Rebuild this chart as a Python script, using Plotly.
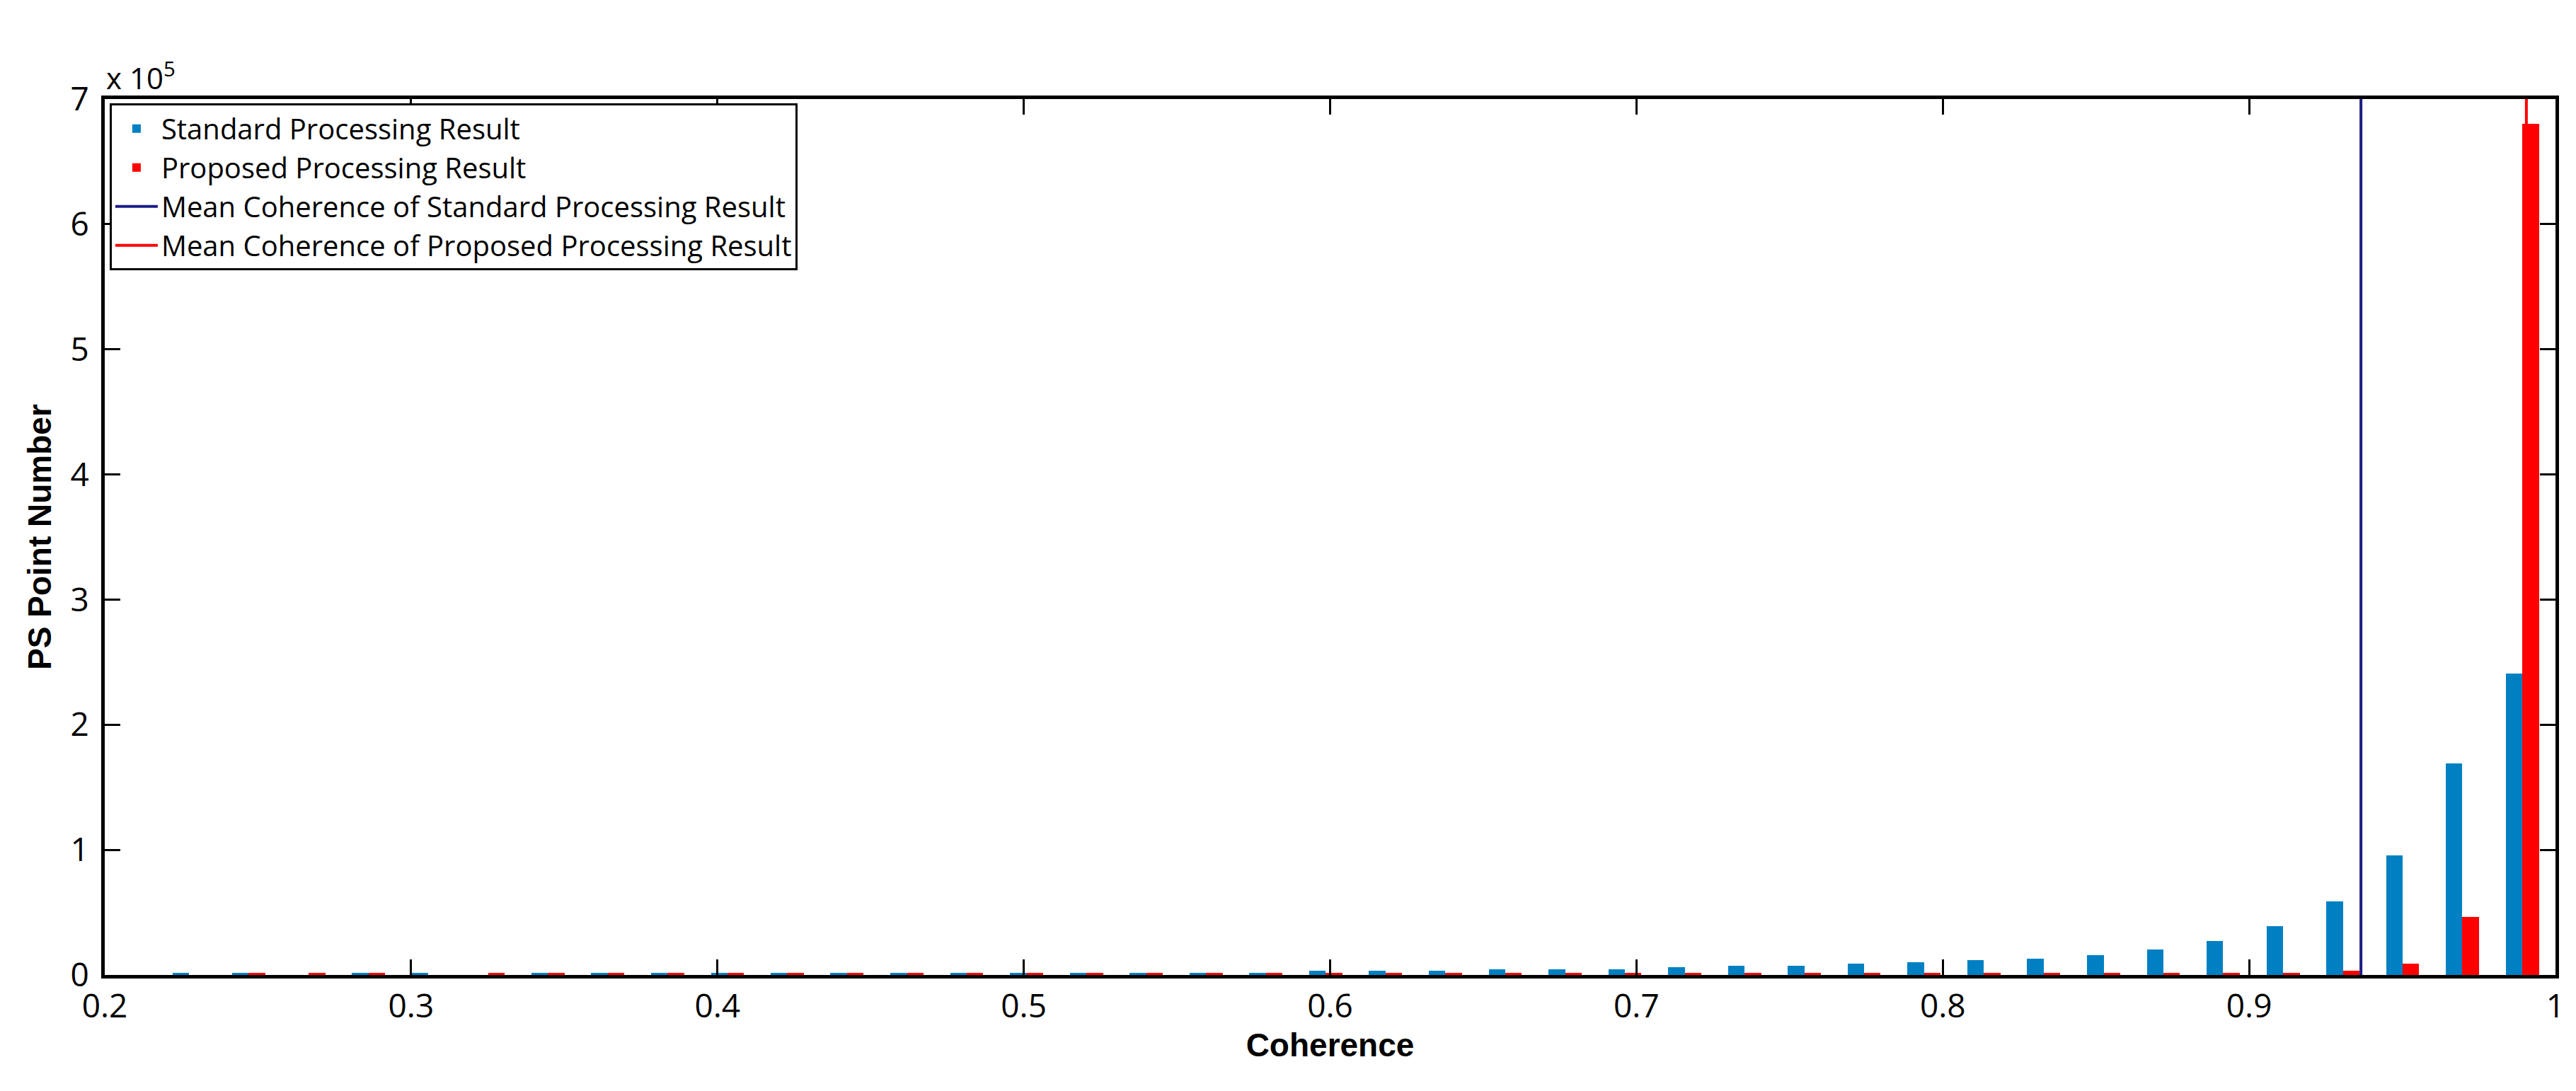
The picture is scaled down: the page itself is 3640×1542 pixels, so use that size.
import plotly.graph_objects as go

# bin centres (40 bins, MATLAB hist style)
bin_centers = [0.2275, 0.2470, 0.2666, 0.2861, 0.3056, 0.3252, 0.3447, 0.3642, 0.3837, 0.4033,
               0.4228, 0.4423, 0.4619, 0.4814, 0.5009, 0.5205, 0.5400, 0.5595, 0.5790, 0.5986,
               0.6181, 0.6376, 0.6572, 0.6767, 0.6962, 0.7158, 0.7353, 0.7548, 0.7743, 0.7939,
               0.8134, 0.8329, 0.8525, 0.8720, 0.8915, 0.9111, 0.9306, 0.9501, 0.9696, 0.9892]

standard_counts = [1500, 1500, 0, 1500, 1500, 0, 1500, 1500, 1500, 1500,
                   1500, 1500, 1500, 1500, 1500, 1500, 1500, 1500, 1500, 3200,
                   3200, 3200, 4500, 4500, 4500, 6000, 7500, 7500, 8800, 10300,
                   11800, 13100, 16000, 20400, 27400, 39000, 59000, 95300, 169000, 241000]

proposed_counts = [0, 1500, 1500, 1500, 0, 1500, 1500, 1500, 1500, 1500,
                   1500, 1500, 1500, 1500, 1500, 1500, 1500, 1500, 1500, 1500,
                   1500, 1500, 1500, 1500, 1500, 1500, 1500, 1500, 1500, 1500,
                   1500, 1500, 1500, 1500, 1500, 1500, 3200, 8800, 46300, 680000]

mean_standard = 0.9365
mean_proposed = 0.9905

y_ticks = [0, 1e5, 2e5, 3e5, 4e5, 5e5, 6e5, 7e5]
y_ticktext = ["0", "1", "2", "3", "4", "5", "6", "7"]
x_ticks = [0.2, 0.3, 0.4, 0.5, 0.6, 0.7, 0.8, 0.9, 1]
x_ticktext = ["0.2", "0.3", "0.4", "0.5", "0.6", "0.7", "0.8", "0.9", "1"]

BLUE = "#0080C2"
RED = "#FF0000"
NAVY = "#1C1C86"
bar_w = 0.0054
TICK_FONT = "Open Sans"

fig = go.Figure()
fig.add_trace(go.Bar(x=bin_centers, y=standard_counts, width=bar_w, offset=-bar_w,
                     marker=dict(color=BLUE, line=dict(width=0)),
                     name="Standard Processing Result"))
fig.add_trace(go.Bar(x=bin_centers, y=proposed_counts, width=bar_w, offset=0,
                     marker=dict(color=RED, line=dict(width=0)),
                     name="Proposed Processing Result"))
fig.add_trace(go.Scatter(x=[mean_standard, mean_standard], y=[0, 7e5], mode="lines",
                         line=dict(color=NAVY, width=4),
                         name="Mean Coherence of Standard Processing Result"))
fig.add_trace(go.Scatter(x=[mean_proposed, mean_proposed], y=[0, 7e5], mode="lines",
                         line=dict(color=RED, width=4),
                         name="Mean Coherence of Proposed Processing Result"))

axis_common = dict(showline=True, linecolor="black", linewidth=5, mirror="ticks",
                   ticks="inside", ticklen=22, tickwidth=3, tickcolor="black",
                   showgrid=False, zeroline=False,
                   tickfont=dict(family=TICK_FONT, size=46, color="black"))

fig.update_xaxes(range=[0.2, 1], tickvals=x_ticks, ticktext=x_ticktext,
                 title=dict(text="<b>Coherence</b>", font=dict(family="Liberation Sans", size=46, color="black"),
                            standoff=2), **axis_common)
fig.update_yaxes(range=[0, 7e5], tickvals=y_ticks, ticktext=y_ticktext, ticklabelstandoff=8,
                 title=dict(text="<b>PS Point Number</b>", font=dict(family="Liberation Sans", size=46, color="black"),
                            standoff=14), **axis_common)

fig.add_annotation(text="x 10<sup>5</sup>", xref="paper", yref="paper", x=0, y=1.0,
                   xanchor="left", yanchor="bottom", showarrow=False,
                   font=dict(family=TICK_FONT, size=42, color="black"))

fig.update_layout(
    width=3640, height=1542,
    margin=dict(l=140, r=37, t=132, b=172),
    plot_bgcolor="white", paper_bgcolor="white",
    barmode="overlay", bargap=0,
    legend=dict(x=0.002, y=0.995, xanchor="left", yanchor="top",
                bgcolor="white", bordercolor="black", borderwidth=3,
                font=dict(family=TICK_FONT, size=40, color="black"),
                itemwidth=60, tracegroupgap=0),
)

fig.write_html("out.html")
